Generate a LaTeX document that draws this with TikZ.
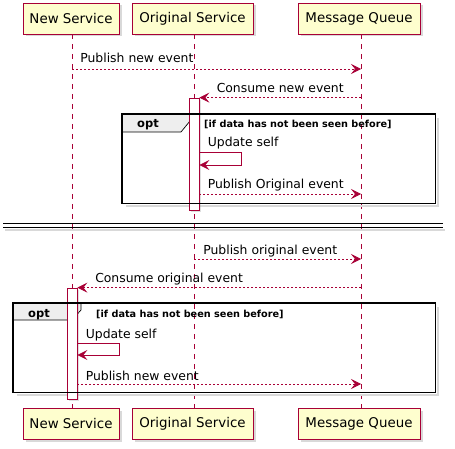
\documentclass[tikz,border=0pt]{standalone}
\usepackage{fontspec}
\setmainfont{DejaVu Sans}
\usepackage{xcolor}
\usetikzlibrary{arrows.meta,positioning,shadows}

\definecolor{umlred}{HTML}{A80036}
\definecolor{umlfill}{HTML}{FEFECE}
\definecolor{tabgray}{HTML}{EEEEEE}
\newcommand\partfont{\fontsize{12.4}{15}\selectfont}
\newcommand\headfont{\fontsize{13.4}{16}\selectfont}

\begin{document}
\begin{tikzpicture}[x=1pt, y=-1pt,
  part/.style={draw=umlred, fill=umlfill, line width=0.9pt, minimum height=31pt, minimum width=#1, inner xsep=0pt, font=\headfont,
    drop shadow={shadow xshift=2.5pt, shadow yshift=-2.5pt, opacity=0.3}},
  life/.style={draw=umlred, line width=0.7pt, dash pattern=on 5pt off 5pt},
  act/.style={draw=umlred, fill=white, line width=0.8pt, minimum width=10pt, inner sep=0pt,
    drop shadow={shadow xshift=2pt, shadow yshift=-2pt, opacity=0.25}},
  msg/.style={draw=umlred, line width=0.7pt, dash pattern=on 2pt off 2pt, -{Stealth[length=10pt, width=10pt, inset=4pt]}},
  selfmsg/.style={draw=umlred, line width=0.8pt, -{Stealth[length=10pt, width=10pt, inset=4pt]}},
  lbl/.style={font=\partfont, inner sep=0pt, anchor=base west},
  frame/.style={inner sep=0pt, anchor=north west},
  frameline/.style={draw=black, line width=1.7pt},
  frameshadow/.style={draw=black!15, line width=2pt},
  tab/.style={draw=black, line width=0.7pt, fill=tabgray},
  cond/.style={font=\bfseries\fontsize{9.7}{11}\selectfont, inner sep=0pt, anchor=base west},
  optlbl/.style={font=\bfseries\fontsize{11.5}{13}\selectfont, inner sep=0pt, anchor=base}]
\useasboundingbox (0,0) rectangle (455,449);

\node[part=96pt]  (ns)  at (71,18.5)  {New Service};
\node[part=121pt] (os)  at (192.5,18.5) {Original Service};
\node[part=122pt] (mq)  at (359,18.5) {Message Queue};
\node[part=96pt]  (nsb) at (71,423.5) {New Service};
\node[part=121pt] (osb) at (192.5,423.5) {Original Service};
\node[part=122pt] (mqb) at (359,423.5) {Message Queue};

\draw[life] (ns.south -| 72,0) -- (nsb.north -| 72,0);
\draw[life] (os.south -| 194,0) -- (osb.north -| 194,0);
\draw[life] (mq.south -| 361,0) -- (mqb.north -| 361,0);

\node[frame, minimum width=313pt, minimum height=89pt] (f1) at (122,114) {};
\node[frame, minimum width=422pt, minimum height=89pt] (f2) at (13,303) {};
\draw[frameshadow] ([shift={(3,4)}]f1.north east) -- ([shift={(3,3)}]f1.south east) -- ([shift={(4,3)}]f1.south west);
\draw[frameshadow] ([shift={(3,4)}]f2.north east) -- ([shift={(3,3)}]f2.south east) -- ([shift={(4,3)}]f2.south west);
\draw[tab] (f1.north west) -- ++(68,0) -- ++(0,7) -- ++(-9,11) -- ++(-59,0) -- cycle;
\draw[tab] (f2.north west) -- ++(68,0) -- ++(0,7) -- ++(-9,10) -- ++(-59,0) -- cycle;
\node[optlbl] at ([shift={(26,14)}]f1.north west) {opt};
\node[optlbl] at ([shift={(26,14)}]f2.north west) {opt};
\node[cond] at ([shift={(82,14)}]f1.north west) {[if data has not been seen before]};
\node[cond] at ([shift={(83,14)}]f2.north west) {[if data has not been seen before]};

\node[act, minimum height=112pt] (a1) at (194,154) {};
\node[act, minimum height=111pt] (a2) at (72,343.5) {};

\draw[frameline] (f1.north west) rectangle (f1.south east);
\draw[frameline] (f2.north west) rectangle (f2.south east);

\draw[msg] (72,69) -- (361,69) node[lbl, at start, xshift=8pt, yshift=6pt] {Publish new event};
\draw[msg] (a1.north -| 361,0) -- (a1.north east) node[lbl, at end, xshift=17pt, yshift=5pt] {Consume new event};
\draw[selfmsg] (a1.east |- 0,152) node[lbl, xshift=8pt, yshift=5pt] {Update self} -- ++(42,0) -- ++(0,13) -- (a1.east |- 0,165);
\draw[msg] (a1.east |- 0,194) -- (361,194) node[lbl, at start, xshift=8pt, yshift=5pt] {Publish Original event};

\draw[line width=0.9pt] (3,223) -- (443,223) (3,227) -- (443,227);
\draw[black!15, line width=2pt] (5,230) -- (445,230);

\draw[msg] (194,259) -- (361,259) node[lbl, at start, xshift=9pt, yshift=5pt] {Publish original event};
\draw[msg] (a2.north -| 361,0) -- (a2.north east) node[lbl, at end, xshift=17.5pt, yshift=5pt] {Consume original event};
\draw[selfmsg] (a2.east |- 0,343) node[lbl, xshift=8pt, yshift=5pt] {Update self} -- ++(42,0) -- ++(0,12) -- (a2.east |- 0,355);
\draw[msg] (a2.east |- 0,384) -- (361,384) node[lbl, at start, xshift=8pt, yshift=4pt] {Publish new event};
\end{tikzpicture}
\end{document}
